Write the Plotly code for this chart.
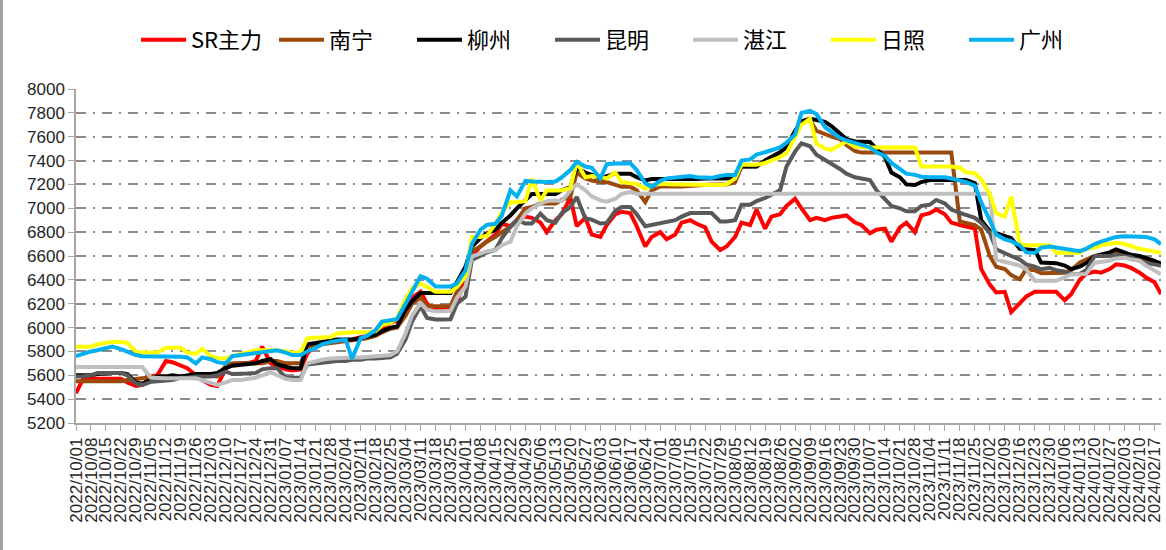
import plotly.graph_objects as go
from datetime import date, timedelta

# ---- data (half-weekly samples) ----
start = date(2022, 10, 1)
dates = [start + timedelta(days=7 * (k // 2) + 3 * (k % 2)) for k in range(146)]
tick_dates = [start + timedelta(days=7 * w) for w in range(73)]
tick_labels = [d.strftime("%Y/%m/%d") for d in tick_dates]

series_names = ["SR主力", "南宁", "柳州", "昆明", "湛江", "日照", "广州"]
series_colors = ["#FF0000", "#9C4A0C", "#000000", "#595959", "#BFBFBF", "#FFFF00", "#00B0F0"]

sr_main = [
    5450, 5560, 5570, 5570, 5570, 5570, 5570, 5540, 5510, 5520,
    5590, 5600, 5720, 5710, 5680, 5660, 5600, 5560, 5520, 5510,
    5660, 5690, 5700, 5700, 5720, 5840, 5700, 5680, 5650, 5640,
    5650, 5780, 5860, 5870, 5880, 5880, 5890, 5900, 5920, 5930,
    5960, 6000, 6040, 6060, 6150, 6250, 6300, 6200, 6150, 6160,
    6160, 6220, 6400, 6600, 6680, 6720, 6780, 6870, 6850, 6900,
    6930, 6920, 6880, 6800, 6900, 6950, 7090, 6850, 6920, 6780,
    6760, 6860, 6950, 6970, 6960, 6850, 6680, 6760, 6800, 6740,
    6780, 6880, 6900, 6870, 6840, 6720, 6650, 6680, 6760, 6880,
    6860, 6990, 6830, 6930, 6950, 7020, 7080, 7000, 6900, 6920,
    6900, 6920, 6930, 6940, 6880, 6860, 6790, 6820, 6830, 6720,
    6840, 6880, 6800, 6940, 6960, 6990, 6950, 6880, 6860, 6850,
    6830, 6490, 6360, 6294, 6300, 6130, 6210, 6260, 6300, 6300,
    6300, 6300, 6230, 6280, 6400, 6450, 6470, 6460, 6490, 6530,
    6520, 6500, 6460, 6420, 6380, 6280,
]

nanning = [
    5550, 5550, 5550, 5550, 5550, 5550, 5550, 5560, 5570, 5570,
    5580, 5590, 5590, 5590, 5590, 5590, 5590, 5600, 5590, 5590,
    5680, 5700, 5700, 5700, 5700, 5700, 5720, 5720, 5700, 5700,
    5700, 5840, 5860, 5860, 5870, 5880, 5890, 5890, 5900, 5910,
    5930, 5960, 5990, 6000, 6100, 6200, 6250, 6180, 6178, 6178,
    6180, 6300, 6470, 6640, 6680, 6720, 6760, 6800, 6845, 6900,
    7000, 7010, 7040, 7040, 7040, 7070, 7095, 7300, 7250, 7233,
    7220, 7220, 7200, 7180, 7180, 7150, 7053, 7150, 7183, 7180,
    7183, 7183, 7190, 7195, 7195, 7200, 7200, 7200, 7220, 7350,
    7350, 7350, 7400, 7430, 7470, 7510, 7640, 7720, 7740, 7650,
    7620, 7600, 7580, 7530, 7480, 7467, 7467, 7467, 7467, 7467,
    7467, 7467, 7467, 7467, 7467, 7467, 7467, 7467, 6890, 6880,
    6860, 6820, 6600, 6510, 6490, 6440, 6405, 6489, 6480, 6455,
    6455, 6455, 6460, 6480, 6544, 6570, 6600, 6600, 6610, 6628,
    6610, 6600, 6580, 6560, 6550, 6544,
]

liuzhou = [
    5600, 5600, 5600, 5610, 5620, 5620, 5620, 5610, 5540, 5530,
    5560, 5590, 5590, 5600, 5590, 5600, 5610, 5610, 5610, 5620,
    5660, 5680, 5690, 5690, 5700, 5720, 5735, 5690, 5670, 5660,
    5660, 5860, 5870, 5880, 5890, 5900, 5900, 5900, 5910, 5920,
    5940, 5970, 6000, 6010, 6150, 6220, 6290, 6290, 6290, 6290,
    6290, 6380, 6510, 6680, 6750, 6790, 6820, 6880, 6940, 7000,
    7066, 7120, 7120, 7120, 7120, 7150, 7178, 7340, 7300, 7280,
    7250, 7270, 7290, 7290, 7290, 7260, 7233, 7245, 7245, 7240,
    7240, 7240, 7245, 7245, 7250, 7250, 7250, 7250, 7260, 7350,
    7350, 7350, 7400, 7433, 7470, 7517, 7650, 7730, 7750, 7740,
    7725, 7690, 7630, 7580, 7560, 7560, 7555, 7500, 7430, 7300,
    7260, 7200, 7195, 7220, 7237, 7237, 7237, 7237, 7237, 7237,
    7210, 6900, 6810, 6790, 6770, 6750, 6660, 6656, 6650, 6545,
    6540, 6540, 6520, 6490, 6510, 6540, 6600, 6615, 6630, 6656,
    6630, 6610, 6600, 6580, 6560, 6530,
]

kunming = [
    5590, 5590, 5600, 5620, 5620, 5620, 5620, 5600, 5530, 5520,
    5545, 5550, 5560, 5560, 5580, 5580, 5590, 5590, 5590, 5600,
    5630, 5610, 5610, 5615, 5620, 5650, 5660, 5660, 5580, 5580,
    5580, 5690, 5700, 5700, 5710, 5720, 5720, 5730, 5730, 5740,
    5740, 5745, 5750, 5780, 5900, 6050, 6178, 6080, 6067, 6067,
    6070, 6200, 6260, 6567, 6600, 6630, 6650, 6750, 6845, 6900,
    6872, 6872, 6955, 6900, 6880, 6960, 7010, 7095, 6914, 6905,
    6872, 6877, 6980, 7011, 7011, 6950, 6850, 6860, 6880, 6890,
    6900, 6930, 6960, 6960, 6960, 6960, 6890, 6890, 6900, 7030,
    7030, 7060, 7086, 7110, 7150, 7350, 7475, 7545, 7520, 7450,
    7405, 7380, 7330, 7290, 7260, 7250, 7237, 7153, 7080, 7020,
    7000, 6975, 6975, 7020, 7030, 7070, 7040, 6990, 6961, 6940,
    6920, 6878, 6794, 6656, 6620, 6600, 6570, 6530, 6510, 6489,
    6500, 6480, 6470, 6447, 6450, 6480, 6600, 6600, 6600, 6610,
    6600, 6590, 6560, 6540, 6530, 6517,
]

zhanjiang = [
    5670, 5670, 5670, 5670, 5670, 5670, 5670, 5670, 5670, 5670,
    5580, 5575, 5575, 5575, 5575, 5575, 5575, 5560, 5540, 5520,
    5540, 5560, 5560, 5570, 5580, 5600, 5625, 5600, 5570, 5560,
    5560, 5700, 5720, 5730, 5740, 5745, 5745, 5750, 5750, 5755,
    5760, 5760, 5770, 5800, 5950, 6100, 6205, 6150, 6136, 6136,
    6140, 6250, 6345, 6595, 6620, 6640, 6650, 6690, 6720, 6850,
    6955, 7000, 7040, 7060, 7066, 7060, 7150, 7200, 7150, 7100,
    7066, 7055, 7080, 7120, 7136, 7122, 7122, 7122, 7122, 7122,
    7122, 7122, 7122, 7122, 7122, 7122, 7122, 7122, 7122, 7122,
    7122, 7122, 7122, 7122, 7122, 7122, 7122, 7122, 7122, 7122,
    7122, 7122, 7122, 7122, 7122, 7122, 7122, 7122, 7122, 7122,
    7122, 7122, 7122, 7122, 7122, 7122, 7122, 7122, 7122, 7122,
    7122, 7122, 7122, 6570, 6550, 6540, 6520, 6489, 6392, 6392,
    6392, 6392, 6420, 6447, 6447, 6450, 6544, 6550, 6560, 6580,
    6586, 6570, 6560, 6520, 6480, 6447,
]

rizhao = [
    5840, 5840, 5840, 5860, 5875, 5880, 5880, 5870, 5800, 5790,
    5790, 5790, 5830, 5830, 5830, 5790, 5780, 5820, 5760, 5745,
    5740, 5760, 5780, 5790, 5810, 5810, 5810, 5810, 5800, 5790,
    5790, 5910, 5915, 5915, 5920, 5950, 5960, 5960, 5960, 5960,
    5970, 6020, 6040, 6080, 6240, 6330, 6370, 6340, 6300, 6300,
    6300, 6340, 6430, 6760, 6760, 6770, 6870, 6970, 7050, 7050,
    7060, 7250, 7066, 7150, 7150, 7150, 7170, 7385, 7260, 7270,
    7265, 7250, 7300, 7220, 7210, 7205, 7164, 7190, 7205, 7200,
    7200, 7200, 7197, 7195, 7195, 7195, 7195, 7200, 7250, 7364,
    7364, 7364, 7380, 7400, 7430, 7460, 7600, 7700, 7750, 7544,
    7500, 7490, 7530, 7560, 7515, 7510, 7510, 7510, 7510, 7510,
    7510, 7510, 7510, 7350, 7350, 7350, 7350, 7350, 7340, 7300,
    7295, 7240, 7120, 6960, 6930, 7097, 6700, 6690, 6690, 6690,
    6690, 6628, 6628, 6628, 6628, 6660, 6670, 6690, 6700, 6710,
    6700, 6680, 6660, 6650, 6640, 6628,
]

guangzhou = [
    5760, 5780, 5800, 5810, 5830, 5840, 5820, 5800, 5770, 5760,
    5760, 5755, 5755, 5755, 5755, 5750, 5700, 5750, 5735, 5710,
    5700, 5760, 5770, 5780, 5790, 5790, 5800, 5810, 5790, 5770,
    5770, 5800, 5830, 5860, 5880, 5890, 5900, 5740, 5910, 5930,
    5980, 6050, 6060, 6070, 6200, 6300, 6430, 6410, 6345, 6345,
    6345, 6370, 6480, 6700, 6820, 6860, 6870, 6940, 7150, 7100,
    7230, 7225, 7220, 7220, 7225, 7260, 7320, 7390, 7350, 7340,
    7250, 7370, 7375, 7375, 7378, 7320, 7210, 7180, 7230, 7250,
    7255, 7265, 7270, 7260, 7255, 7255, 7270, 7280, 7280, 7400,
    7410, 7450, 7470, 7490, 7510, 7550, 7620, 7800, 7816, 7790,
    7680, 7640, 7590, 7570, 7550, 7530, 7510, 7470, 7440, 7380,
    7330, 7290, 7280, 7265, 7260, 7260, 7260, 7250, 7237, 7220,
    7190, 7050, 6900, 6780, 6740, 6725, 6690, 6630, 6625, 6670,
    6680, 6670, 6665, 6650, 6640, 6660, 6700, 6720, 6740, 6760,
    6765, 6765, 6760, 6760, 6740, 6700,
]

all_series = [sr_main, nanning, liuzhou, kunming, zhanjiang, rizhao, guangzhou]

y_ticks = list(range(5200, 8001, 200))

# ---- figure ----
fig = go.Figure()
for name, color, vals in zip(series_names, series_colors, all_series):
    fig.add_trace(go.Scatter(
        x=dates, y=vals, name=name, mode="lines",
        line=dict(color=color, width=4),
    ))

W, H = 1166, 550
ml, mr, mt, mb = 76, 5, 89, 127
pw = W - ml - mr
ph = H - mt - mb

fig.update_layout(
    width=W, height=H,
    margin=dict(l=ml, r=mr, t=mt, b=mb, pad=0, autoexpand=False),
    paper_bgcolor="white", plot_bgcolor="white",
    showlegend=True,
    legend=dict(
        orientation="h", x=(136 - ml) / pw, xanchor="left",
        y=1 + (mt - 40) / ph, yanchor="middle",
        font=dict(family="Noto Sans CJK SC", size=22, color="#000000"),
        itemwidth=45, entrywidth=78, entrywidthmode="pixels",
        bgcolor="rgba(0,0,0,0)",
    ),
    font=dict(family="Liberation Sans", color="#262626"),
)

fig.update_xaxes(
    type="date", automargin=False,
    range=[dates[0].isoformat(), dates[-1].isoformat()],
    tickmode="array", tickvals=tick_dates, ticktext=tick_labels,
    tickangle=-90, tickfont=dict(family="Liberation Sans", size=17, color="#262626"),
    showline=True, linecolor="#A6A6A6", linewidth=1.5,
    ticks="outside", ticklen=6, tickcolor="#A6A6A6", tickwidth=1,
    showgrid=False, zeroline=False,
)
fig.update_yaxes(
    range=[5200, 8000], automargin=False,
    tickmode="array", tickvals=y_ticks,
    tickfont=dict(family="Liberation Sans", size=17, color="#262626"),
    showline=True, linecolor="#A6A6A6", linewidth=1.5,
    ticks="outside", ticklen=6, tickcolor="#A6A6A6", tickwidth=1,
    showgrid=True, gridcolor="#8C8C8C", gridwidth=2,
    griddash="10px,7px,2px,7px",
    zeroline=False,
)

# outer frame line at left edge of the chart image
fig.add_shape(
    type="line", xref="paper", yref="paper",
    x0=-(ml - 1.5) / pw, x1=-(ml - 1.5) / pw,
    y0=-mb / ph, y1=1 + mt / ph,
    line=dict(color="#A0A0A0", width=3),
)

fig.write_html(
    "out.html",
    config={"displayModeBar": False},
    post_script="document.body.style.margin='0px';document.body.style.overflow='hidden';",
)
